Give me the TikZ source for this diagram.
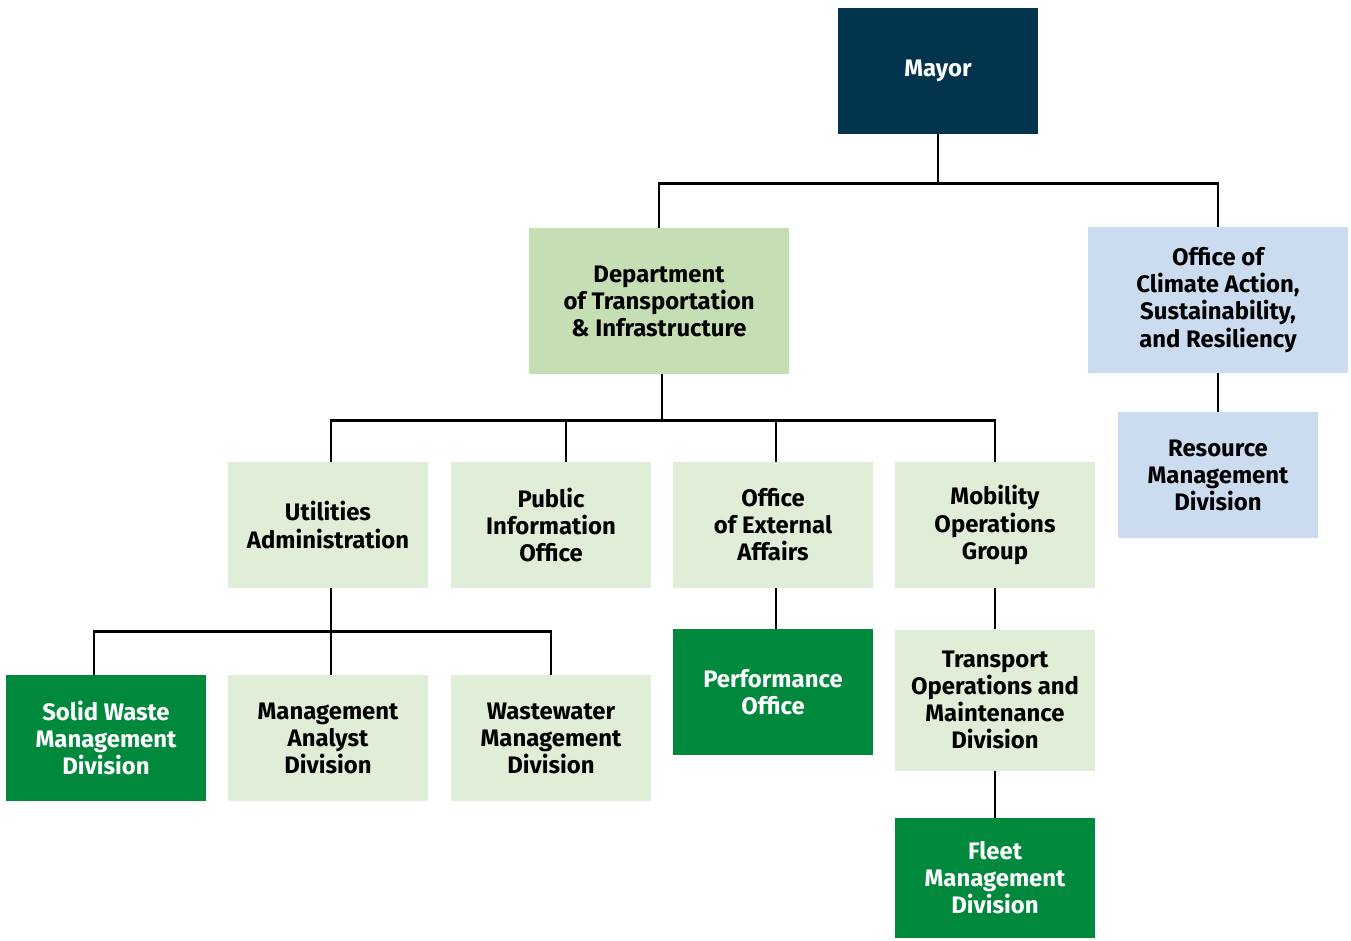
\documentclass[tikz,border=0pt]{standalone}
\usepackage{fontspec}
\setmainfont{Fira Sans}
\usetikzlibrary{positioning}
\definecolor{mayorblue}{HTML}{03344E}
\definecolor{deptgreen}{HTML}{C5DEB3}
\definecolor{climateblue}{HTML}{CCDCF0}
\definecolor{palegreen}{HTML}{E0EED8}
\definecolor{darkgreen}{HTML}{00893D}
\tikzset{
  unit/.style={inner sep=0pt, align=center, font=\bfseries\fontsize{13.6}{15.4}\selectfont,
    minimum width=4cm, minimum height=2.52cm},
  topunit/.style={unit, fill=mayorblue, text=white},
  deptunit/.style={unit, fill=deptgreen, minimum width=5.2cm, minimum height=2.92cm},
  climateunit/.style={unit, fill=climateblue},
  subunit/.style={unit, fill=palegreen},
  keyunit/.style={unit, fill=darkgreen, text=white},
  link/.style={draw=black, line width=1.4pt}
}
\begin{document}
\begin{tikzpicture}[x=0.02cm, y=-0.02cm]
    \useasboundingbox (0,0) rectangle (1351,940);
    %top level
    \node[topunit] (mayor) at (938,71) {Mayor};
    \node[deptunit] (dti) at (659,301) {Department\\of Transportation\\\& Infrastructure};
    \node[climateunit, minimum width=5.2cm, minimum height=2.92cm] (climate) at (1218,300)
      {Office of\\Climate Action,\\Sustainability,\\and Resiliency};
    \node[climateunit] (resource) at (1218,475) {Resource\\Management\\Division};
    %second level
    \node[subunit] (utilities) at (328,525) {Utilities\\Administration};
    \node[subunit] (pio) at (551,525) {Public\\Information\\Office};
    \node[subunit] (external) at (773,525) {Office\\of External\\Affairs};
    \node[subunit] (mobility) at (995,525) {Mobility\\Operations\\Group};
    %third level
    \node[keyunit] (solidwaste) at (106,738) {Solid Waste\\Management\\Division};
    \node[subunit] (analyst) at (328,738) {Management\\Analyst\\Division};
    \node[subunit] (wastewater) at (551,738) {Wastewater\\Management\\Division};
    \node[keyunit] (performance) at (773,692) {Performance\\Office};
    \node[subunit, minimum height=2.82cm] (transport) at (995,700)
      {Transport\\Operations and\\Maintenance\\Division};
    \node[keyunit, minimum height=2.4cm] (fleet) at (995,878) {Fleet\\Management\\Division};
    %connectors
    \draw[link] (mayor.south) -- ++(0,49) -| (dti.north);
    \draw[link] (mayor.south) -- ++(0,49) -| (climate.north);
    \draw[link] (climate.south) -- (resource.north);
    \draw[link] ([xshift=0.06cm]dti.south) -- ++(0,46) -| ([xshift=0.06cm]utilities.north);
    \draw[link] ([xshift=0.06cm]dti.south) -- ++(0,46) -| ([xshift=0.3cm]pio.north);
    \draw[link] ([xshift=0.06cm]dti.south) -- ++(0,46) -| ([xshift=0.06cm]external.north);
    \draw[link] ([xshift=0.06cm]dti.south) -- ++(0,46) -| (mobility.north);
    \draw[link] ([xshift=0.06cm]utilities.south) -- ++(0,43) -| ([xshift=-0.24cm]solidwaste.north);
    \draw[link] ([xshift=0.06cm]utilities.south) -- ([xshift=0.06cm]analyst.north);
    \draw[link] ([xshift=0.06cm]utilities.south) -- ++(0,43) -| (wastewater.north);
    \draw[link] ([xshift=0.06cm]external.south) -- ([xshift=0.06cm]performance.north);
    \draw[link] (mobility.south) -- (transport.north);
    \draw[link] (transport.south) -- (fleet.north);
\end{tikzpicture}
\end{document}
